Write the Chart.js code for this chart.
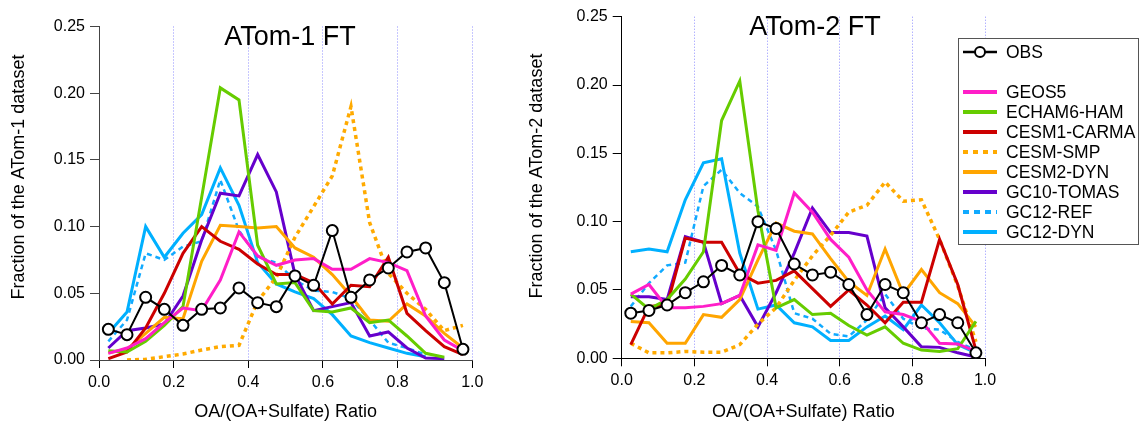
<!DOCTYPE html>
<html>
<head>
<meta charset="utf-8">
<title>ATom FT - OA/(OA+Sulfate)</title>
<script src="https://cdn.jsdelivr.net/npm/chart.js@4.4.1/dist/chart.umd.min.js"></script>
<style>
  html, body { margin: 0; padding: 0; background: #fff; }
  #wrap { position: relative; width: 1140px; height: 427px; overflow: hidden; }
  canvas { position: absolute; top: 0; }
  #atom1 { left: 0; }
  #atom2 { left: 520px; }
</style>
</head>
<body>
<div id="wrap">
  <canvas id="atom1" width="520" height="427"></canvas>
  <canvas id="atom2" width="620" height="427"></canvas>
</div>
<script>
// bin centres of the OA/(OA+Sulfate) ratio
const binCenters = [0.025, 0.075, 0.125, 0.175, 0.225, 0.275, 0.325, 0.375, 0.425, 0.475,
                    0.525, 0.575, 0.625, 0.675, 0.725, 0.775, 0.825, 0.875, 0.925, 0.975];
const xTicks = [0.0, 0.2, 0.4, 0.6, 0.8, 1.0];
const yTicks = [0.00, 0.05, 0.10, 0.15, 0.20, 0.25];

// ATom-1
const obs1    = [0.023, 0.019, 0.047, 0.038, 0.026, 0.038, 0.039, 0.054, 0.043, 0.040, 0.063, 0.056, 0.097, 0.047, 0.060, 0.069, 0.081, 0.084, 0.058, 0.008];
const geos1   = [0.005, 0.009, 0.016, 0.028, 0.039, 0.037, 0.060, 0.096, 0.078, 0.071, 0.075, 0.076, 0.068, 0.068, 0.076, 0.073, 0.067, 0.033, 0.015, 0.007];
const echam1  = [0.007, 0.006, 0.014, 0.026, 0.040, 0.122, 0.204, 0.195, 0.086, 0.057, 0.058, 0.037, 0.036, 0.039, 0.028, 0.030, 0.018, 0.005, 0.002, null];
const carma1  = [0.001, 0.006, 0.024, 0.050, 0.080, 0.100, 0.089, 0.083, 0.072, 0.064, 0.064, 0.058, 0.042, 0.056, 0.055, 0.077, 0.035, 0.022, 0.010, 0.004];
const smp1    = [null, 0.000, 0.0005, 0.0025, 0.0045, 0.0075, 0.010, 0.011, 0.044, 0.062, 0.092, 0.115, 0.138, 0.190, 0.103, 0.065, 0.050, 0.038, 0.022, 0.026];
const cesm2_1 = [0.0055, 0.008, 0.020, 0.032, 0.031, 0.074, 0.101, 0.100, 0.099, 0.100, 0.084, 0.077, 0.064, 0.048, 0.030, 0.029, 0.042, 0.033, 0.020, 0.009];
const tomas1  = [0.009, 0.022, 0.024, 0.027, 0.048, 0.090, 0.125, 0.123, 0.154, 0.126, 0.064, 0.037, 0.040, 0.043, 0.018, 0.021, 0.009, 0.0015, 0.001, null];
const ref1    = [0.014, 0.030, 0.080, 0.075, 0.085, 0.089, 0.135, 0.097, 0.077, 0.073, 0.060, 0.052, 0.051, 0.046, 0.030, 0.013, 0.009, 0.004, null, null];
const dyn1    = [0.020, 0.036, 0.100, 0.077, 0.095, 0.109, 0.144, 0.116, 0.073, 0.057, 0.051, 0.046, 0.034, 0.018, 0.013, 0.009, 0.005, 0.0025, null, null];

// ATom-2
const obs2    = [0.033, 0.035, 0.039, 0.048, 0.056, 0.068, 0.061, 0.100, 0.095, 0.069, 0.061, 0.063, 0.054, 0.032, 0.054, 0.048, 0.026, 0.032, 0.026, 0.004];
const geos2   = [0.047, 0.054, 0.037, 0.037, 0.038, 0.040, 0.046, 0.083, 0.079, 0.121, 0.107, 0.087, 0.074, 0.050, 0.034, 0.032, 0.027, 0.011, 0.0105, 0.005];
const echam2  = [0.047, 0.036, 0.043, 0.058, 0.078, 0.174, 0.203, 0.108, 0.037, 0.043, 0.032, 0.033, 0.024, 0.017, 0.023, 0.011, 0.006, 0.005, 0.007, 0.027];
const carma2  = [0.010, 0.038, 0.039, 0.088, 0.085, 0.085, 0.062, 0.055, 0.057, 0.064, 0.051, 0.038, 0.050, 0.039, 0.026, 0.041, 0.041, 0.087, 0.054, 0.006];
const smp2    = [0.011, 0.004, 0.004, 0.005, 0.0045, 0.0045, 0.010, 0.025, 0.037, 0.057, 0.075, 0.090, 0.107, 0.112, 0.129, 0.115, 0.116, 0.087, 0.053, 0.012];
const cesm2_2 = [0.027, 0.026, 0.011, 0.011, 0.032, 0.030, 0.043, 0.072, 0.099, 0.093, 0.091, 0.073, 0.056, 0.046, 0.080, 0.047, 0.065, 0.048, 0.040, 0.023];
const tomas2  = [0.045, 0.045, 0.043, 0.089, 0.085, 0.040, 0.046, 0.023, 0.048, 0.077, 0.110, 0.092, 0.092, 0.0895, 0.037, 0.023, 0.0085, 0.008, 0.004, 0.001];
const ref2    = [0.038, 0.055, 0.068, 0.070, 0.126, 0.138, 0.121, 0.111, 0.079, 0.033, 0.029, 0.018, 0.016, 0.028, 0.047, 0.029, 0.022, 0.021, 0.012, 0.006];
const dyn2    = [0.078, 0.080, 0.078, 0.116, 0.143, 0.146, 0.077, 0.036, 0.039, 0.026, 0.023, 0.013, 0.013, 0.023, 0.031, 0.021, 0.039, 0.026, 0.010, 0.004];

const modelos = [
    { label: 'GEOS5',       color: '#ff1ec8', dash: [],     width: 3 },
    { label: 'ECHAM6-HAM',  color: '#66cc00', dash: [],     width: 3 },
    { label: 'CESM1-CARMA', color: '#cc0000', dash: [],     width: 3 },
    { label: 'CESM-SMP',    color: '#ffaa00', dash: [4, 4], width: 3.5 },
    { label: 'CESM2-DYN',   color: '#ffa500', dash: [],     width: 3 },
    { label: 'GC10-TOMAS',  color: '#6600cc', dash: [],     width: 3 },
    { label: 'GC12-REF',    color: '#11aaff', dash: [5, 4], width: 2.5 },
    { label: 'GC12-DYN',    color: '#00b0ff', dash: [],     width: 3 }
];

const FONT = '"Liberation Sans", Arial, Helvetica, sans-serif';
Chart.defaults.font.family = FONT;
Chart.defaults.font.size = 16;
Chart.defaults.color = '#000';

function puntos(vals) {
    return binCenters.map((x, i) => ({ x: x, y: vals[i] }));
}

function makeDatasets(obs, series) {
    const sets = [{
        label: 'OBS',
        data: puntos(obs),
        borderColor: '#000',
        borderWidth: 2,
        pointRadius: 5.5,
        pointBorderWidth: 2,
        pointBackgroundColor: '#fff',
        pointBorderColor: '#000',
        tension: 0
    }];
    series.forEach((vals, i) => {
        const m = modelos[i];
        sets.push({
            label: m.label,
            data: puntos(vals),
            borderColor: m.color,
            borderWidth: m.width,
            borderDash: m.dash,
            pointRadius: 0,
            tension: 0,
            spanGaps: false
        });
    });
    return sets;
}

// panel title + rotated y title
const panelText = {
    id: 'panelText',
    afterDraw(chart, args, opts) {
        const ctx = chart.ctx;
        ctx.save();
        ctx.fillStyle = '#000';
        ctx.textAlign = 'center';
        ctx.font = '27px ' + FONT;
        ctx.textBaseline = 'alphabetic';
        ctx.fillText(opts.title, opts.titleX, opts.titleY);
        ctx.font = '18px ' + FONT;
        ctx.textBaseline = 'middle';
        ctx.translate(opts.yTitleX, opts.yTitleY);
        ctx.rotate(-Math.PI / 2);
        ctx.fillText(opts.yTitle, 0, 0);
        ctx.restore();
    }
};

// boxed legend that sits over the right panel
const boxLegend = {
    id: 'boxLegend',
    afterDraw(chart, args, opts) {
        if (!opts.show) return;
        const ctx = chart.ctx;
        ctx.save();
        ctx.fillStyle = '#fff';
        ctx.fillRect(opts.x, opts.y, opts.w, opts.h);
        ctx.strokeStyle = '#555';
        ctx.lineWidth = 1;
        ctx.strokeRect(opts.x + 0.5, opts.y + 0.5, opts.w, opts.h);
        ctx.font = '17.5px ' + FONT;
        ctx.textBaseline = 'middle';
        ctx.textAlign = 'left';
        chart.data.datasets.forEach((ds, i) => {
            const y = opts.y + 14 + (i + (i > 0 ? 1 : 0)) * 20;
            const x0 = opts.x + 5, x1 = opts.x + 39;
            ctx.strokeStyle = ds.borderColor;
            ctx.lineWidth = i === 0 ? 2.5 : 4;
            ctx.setLineDash(ds.borderDash && ds.borderDash.length ? ds.borderDash.map(v => v + 1) : []);
            ctx.beginPath();
            ctx.moveTo(x0, y);
            ctx.lineTo(x1, y);
            ctx.stroke();
            ctx.setLineDash([]);
            if (i === 0) {
                ctx.beginPath();
                ctx.arc((x0 + x1) / 2, y, 5, 0, Math.PI * 2);
                ctx.fillStyle = '#fff';
                ctx.fill();
                ctx.lineWidth = 2;
                ctx.stroke();
            }
            ctx.fillStyle = '#000';
            ctx.fillText(ds.label, opts.x + 48, y + 1);
        });
        ctx.restore();
    }
};

function makeChart(id, obs, series, cfg) {
    const ctx = document.getElementById(id).getContext('2d');
    return new Chart(ctx, {
        type: 'line',
        data: { datasets: makeDatasets(obs, series) },
        plugins: [panelText, boxLegend],
        options: {
            responsive: false,
            animation: false,
            devicePixelRatio: 1,
            layout: { padding: { left: 0, right: cfg.padRight, top: cfg.padTop, bottom: 0 } },
            scales: {
                x: {
                    type: 'linear',
                    min: 0,
                    max: 1,
                    afterFit: s => { s.height = cfg.xHeight; },
                    afterBuildTicks: s => { s.ticks = xTicks.map(v => ({ value: v })); },
                    ticks: { padding: 5, callback: v => v.toFixed(1), maxRotation: 0 },
                    grid: {
                        drawOnChartArea: true,
                        color: c => (c.tick && c.tick.value > 0 ? '#8f8fff' : 'rgba(0,0,0,0)'),
                        lineWidth: 1,
                        drawTicks: true,
                        tickLength: 8,
                        tickColor: '#000',
                        tickWidth: 1,
                        tickBorderDash: []
                    },
                    border: { display: true, color: cfg.axisColor, width: 1, dash: [1, 2] },
                    title: {
                        display: true,
                        text: 'OA/(OA+Sulfate) Ratio',
                        font: { size: 18 },
                        padding: { top: 0, bottom: 4 }
                    }
                },
                y: {
                    min: 0,
                    max: 0.25,
                    afterFit: s => { s.width = cfg.yWidth; },
                    afterBuildTicks: s => { s.ticks = yTicks.map(v => ({ value: v })); },
                    ticks: { padding: 5, callback: v => v.toFixed(2) },
                    grid: {
                        drawOnChartArea: false,
                        drawTicks: true,
                        tickLength: 9,
                        tickColor: cfg.axisColor,
                        color: cfg.axisColor
                    },
                    border: { display: true, color: cfg.axisColor, width: 1 }
                }
            },
            plugins: {
                legend: { display: false },
                tooltip: { enabled: false },
                panelText: cfg.text,
                boxLegend: cfg.legend
            }
        }
    });
}

makeChart('atom1', obs1, [geos1, echam1, carma1, smp1, cesm2_1, tomas1, ref1, dyn1], {
    padRight: 47.7, padTop: 26.5, xHeight: 67, yWidth: 99, axisColor: '#444',
    text: { title: 'ATom-1 FT', titleX: 290, titleY: 45, yTitle: 'Fraction of the ATom-1 dataset', yTitleX: 19, yTitleY: 177 },
    legend: { show: false }
});

makeChart('atom2', obs2, [geos2, echam2, carma2, smp2, cesm2_2, tomas2, ref2, dyn2], {
    padRight: 155, padTop: 16.7, xHeight: 68.7, yWidth: 101.7, axisColor: '#000',
    text: { title: 'ATom-2 FT', titleX: 295, titleY: 35, yTitle: 'Fraction of the ATom-2 dataset', yTitleX: 17, yTitleY: 176 },
    legend: { show: true, x: 438, y: 38, w: 180, h: 206 }
});
</script>
</body>
</html>
